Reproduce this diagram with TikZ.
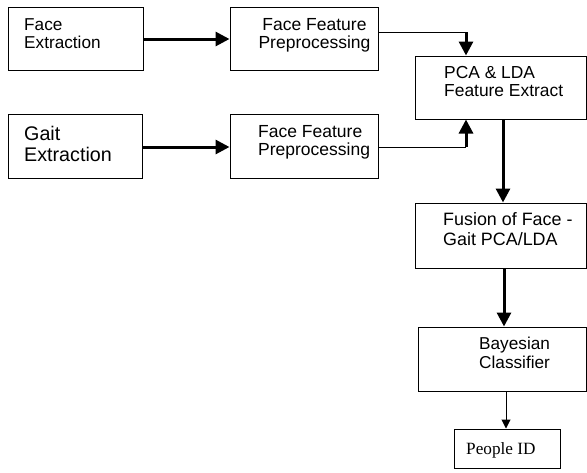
\documentclass[tikz,border=0pt]{standalone}
\usepackage{fontspec}
\setmainfont{Liberation Sans}
\newfontfamily\serifpid{Liberation Serif}
\usetikzlibrary{arrows.meta}
\tikzset{
  box/.style={draw=black, line width=1pt, inner sep=0pt, fill=white},
  lbl/.style={inner sep=0pt, anchor=west, align=left, text=black},
  fat/.style={line width=3pt, -{Triangle[length=14pt,width=14pt]}},
  slim/.style={line width=1pt},
  slimarrow/.style={line width=1pt, -{Triangle[length=9pt,width=9pt]}},
}
\begin{document}
\begin{tikzpicture}[x=1pt,y=-1pt]
\useasboundingbox (0,0) rectangle (587,472);
% boxes
\node[box, minimum width=135pt, minimum height=63pt] (fe) at (75.5,38.5) {};
\node[box, minimum width=148pt, minimum height=63pt] (ffpa) at (304,38.5) {};
\node[box, minimum width=134pt, minimum height=64pt] (ge) at (75,146) {};
\node[box, minimum width=148pt, minimum height=64pt] (ffpb) at (304,146) {};
\node[box, minimum width=171pt, minimum height=63pt] (pca) at (500.5,87.5) {};
\node[box, minimum width=171pt, minimum height=65pt] (fus) at (500.5,235.5) {};
\node[box, minimum width=168pt, minimum height=64pt] (bay) at (502,359) {};
\node[box, minimum width=106pt, minimum height=39pt] (pid) at (507,448.5) {};
% texts
\node[lbl, font=\fontsize{17.2}{18}\selectfont] (tfe) at (24,34) {Face\\Extraction};
\node[lbl, font=\fontsize{19.7}{21}\selectfont] (tge) at (24,143.5) {Gait\\Extraction};
\node[inner sep=0pt, align=center, font=\fontsize{17.5}{18}\selectfont] (tffpa) at (314.5,35) {Face Feature\\Preprocessing};
\node[lbl, font=\fontsize{17.5}{18}\selectfont] (tffpb) at (258,142) {Face Feature\\Preprocessing};
\node[lbl, font=\fontsize{17.4}{18}\selectfont] (tpca) at (444,82) {PCA \& LDA\\Feature Extract};
\node[lbl, font=\fontsize{17.9}{20}\selectfont] (tfus) at (443,229) {Fusion of Face -\\Gait PCA/LDA};
\node[lbl, font=\fontsize{17.2}{19}\selectfont] (tbay) at (479,352.5) {Bayesian\\Classifier};
\node[lbl, font=\serifpid\fontsize{17.2}{18}\selectfont] (tpid) at (466,450) {People ID};
% connectors
\draw[fat] (fe.east |- 0,39) -- (ffpa.west |- 0,39);
\draw[fat] (ge.east |- 0,147) -- (ffpb.west |- 0,147);
\coordinate (ja) at (466,32);
\coordinate (jb) at (466,147);
\draw[slim] (ffpa.east |- ja) -- (ja);
\draw[fat] (ja) -- (ja |- pca.north);
\draw[slim] (ffpb.east |- jb) -- (jb);
\draw[fat] (jb) -- (jb |- pca.south);
\coordinate (jc) at (503,0);
\draw[fat] (jc |- pca.south) -- (jc |- fus.north);
\coordinate (jd) at (504,0);
\draw[fat] (jd |- fus.south) -- (jd |- bay.north);
\coordinate (je) at (506,0);
\draw[slimarrow] (je |- bay.south) -- (je |- pid.north);
\end{tikzpicture}
\end{document}
